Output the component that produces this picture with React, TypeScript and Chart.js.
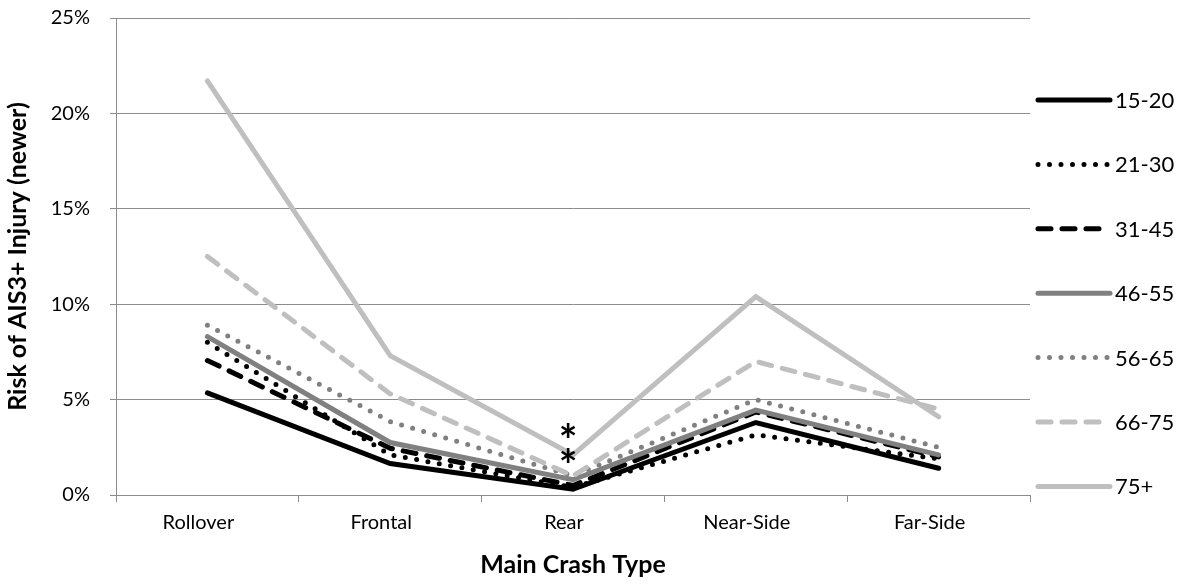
import React, { useEffect, useRef } from "react";
import { Chart, registerables } from "chart.js";

Chart.register(...registerables);

// ---------- data ----------
const categories = ["Rollover", "Frontal", "Rear", "Near-Side", "Far-Side"];
const seriesNames = ["15-20", "21-30", "31-45", "46-55", "56-65", "66-75", "75+"];
const age15to20 = [5.35, 1.65, 0.3, 3.8, 1.4];
const age21to30 = [8.0, 2.1, 0.4, 3.15, 1.9];
const age31to45 = [7.05, 2.45, 0.5, 4.35, 2.0];
const age46to55 = [8.3, 2.75, 0.8, 4.45, 2.1];
const age56to65 = [8.9, 3.85, 1.0, 5.0, 2.5];
const age66to75 = [12.5, 5.3, 1.0, 7.0, 4.5];
const age75plus = [21.7, 7.3, 2.1, 10.4, 4.1];
const seriesValues = [age15to20, age21to30, age31to45, age46to55, age56to65, age66to75, age75plus];
const yTickValues = [0, 5, 10, 15, 20, 25];
const asteriskCategories = ["Rear", "Rear"];
const asteriskValues = [3.4, 2.05];
const yTitle = "Risk of AIS3+ Injury (newer)";
const xTitle = "Main Crash Type";

// ---------- styles ----------
const BLACK = "#000000";
const MID = "#808080";
const LIGHT = "#bfbfbf";
const seriesColors = [BLACK, BLACK, BLACK, MID, MID, LIGHT, LIGHT];
const DOT = [0, 11.5];
const DASH = [13, 11];
const seriesDash = [[], DOT, DASH, [], DOT, DASH, []];
const LINE_W = 5;
const GRID = "#8c8c8c";
const FONT = "Lato, 'Open Sans', sans-serif";
const TICK_SIZE = 20;
const TITLE_SIZE = 25;

const overlayPlugin = {
  id: "overlay",
  afterDatasetsDraw(chart: any) {
    const ctx = chart.ctx as CanvasRenderingContext2D;
    const xs = chart.scales.x;
    const ys = chart.scales.y;
    ctx.save();
    ctx.fillStyle = "#000";
    ctx.font = `bold 100px ${FONT}`;
    const m = ctx.measureText("*");
    const h100 = m.actualBoundingBoxAscent + m.actualBoundingBoxDescent;
    const size = (15 / h100) * 100;
    ctx.font = `bold ${size}px ${FONT}`;
    const m2 = ctx.measureText("*");
    ctx.textAlign = "center";
    ctx.textBaseline = "alphabetic";
    asteriskValues.forEach((v, i) => {
      const idx = categories.indexOf(asteriskCategories[i]);
      const x = xs.getPixelForValue(idx) - 5;
      const y = ys.getPixelForValue(v);
      const off = (m2.actualBoundingBoxAscent - m2.actualBoundingBoxDescent) / 2;
      ctx.fillText("*", x, y + off);
    });
    ctx.restore();
  },
  afterDraw(chart: any) {
    const ctx = chart.ctx as CanvasRenderingContext2D;
    ctx.save();
    const x0 = 1038;
    const x1 = 1110;
    const top = 100;
    const step = 64.4;
    seriesNames.forEach((name, i) => {
      const y = top + i * step;
      ctx.beginPath();
      ctx.strokeStyle = seriesColors[i];
      ctx.lineWidth = LINE_W;
      ctx.lineCap = "round";
      ctx.setLineDash(seriesDash[i]);
      ctx.moveTo(x0, y);
      ctx.lineTo(x1, y);
      ctx.stroke();
      ctx.setLineDash([]);
      ctx.fillStyle = "#000";
      ctx.font = `22px ${FONT}`;
      ctx.textAlign = "left";
      ctx.textBaseline = "middle";
      ctx.fillText(name, x1 + 5, y + 1);
    });
    ctx.restore();
  },
};

export default function App() {
  const ref = useRef<HTMLCanvasElement | null>(null);
  useEffect(() => {
    if (!ref.current) return;
    const chart = new Chart(ref.current, {
      type: "line",
      data: {
        labels: categories,
        datasets: seriesNames.map((name, i) => ({
          label: name,
          data: seriesValues[i],
          borderColor: seriesColors[i],
          backgroundColor: seriesColors[i],
          borderWidth: LINE_W,
          borderDash: seriesDash[i],
          borderCapStyle: "round" as const,
          borderJoinStyle: "miter" as const,
          pointRadius: 0,
          pointHoverRadius: 0,
          tension: 0,
          fill: false,
          order: seriesNames.length - i,
        })),
      },
      options: {
        responsive: false,
        animation: false,
        events: [],
        layout: { autoPadding: false, padding: { top: 18, right: 157, left: 0, bottom: 0 } },
        plugins: {
          legend: { display: false },
          tooltip: { enabled: false },
          title: { display: false },
        },
        scales: {
          x: {
            type: "category",
            offset: true,
            grid: {
              display: true,
              offset: true,
              drawOnChartArea: false,
              drawTicks: true,
              tickLength: 7,
              color: GRID,
              lineWidth: 1,
            },
            border: { display: true, color: GRID, width: 1 },
            ticks: {
              color: "#000",
              font: { family: FONT, size: TICK_SIZE },
              padding: 9,
              labelOffset: -9,
              maxRotation: 0,
            },
            title: {
              display: true,
              text: xTitle,
              color: "#000",
              font: { family: FONT, size: TITLE_SIZE, weight: "bold" },
              padding: { top: 0, bottom: 8 },
            },
            afterFit: (s: any) => {
              s.height = 93;
              s.paddingLeft = 0;
              s.paddingRight = 0;
            },
          },
          y: {
            min: 0,
            max: 25,
            afterBuildTicks: (s: any) => {
              s.ticks = yTickValues.map((v) => ({ value: v }));
            },
            grid: {
              display: true,
              drawTicks: true,
              tickLength: 6,
              color: GRID,
              lineWidth: 1,
            },
            border: { display: true, color: GRID, width: 1 },
            ticks: {
              color: "#000",
              font: { family: FONT, size: TICK_SIZE },
              padding: 20,
              callback: (v: any) => `${v}%`,
            },
            title: {
              display: true,
              text: yTitle,
              color: "#000",
              font: { family: FONT, size: TITLE_SIZE, weight: "bold" },
              padding: { top: 3, bottom: 0 },
            },
            afterFit: (s: any) => {
              s.width = 116;
              s.paddingTop = 0;
              s.paddingBottom = 0;
            },
          },
        },
      },
      plugins: [overlayPlugin],
    });
    return () => chart.destroy();
  }, []);
  return (
    <div style={{ position: "absolute", left: 0, top: 0, width: 1187, height: 588, background: "#fff" }}>
      <canvas ref={ref} width={1187} height={588} style={{ display: "block" }} />
    </div>
  );
}
